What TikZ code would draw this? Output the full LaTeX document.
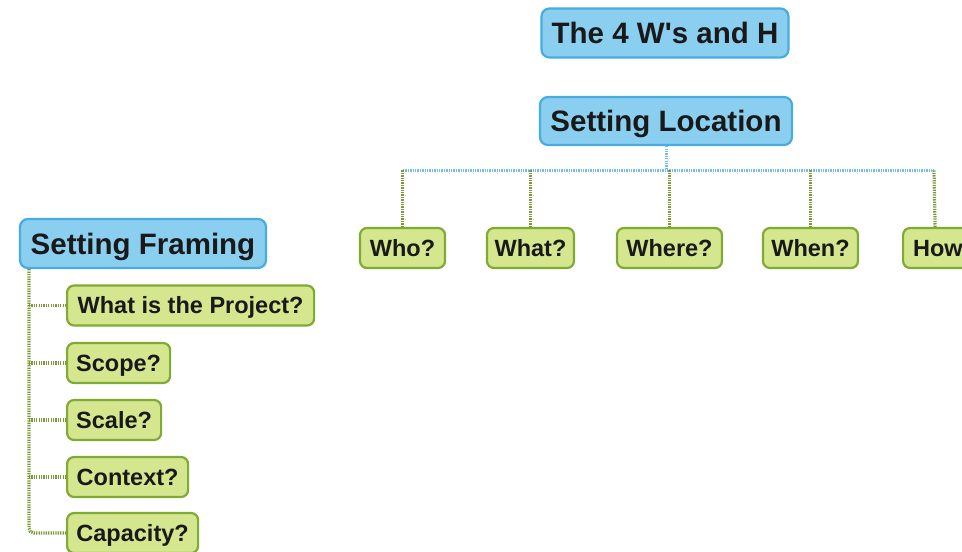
\documentclass[tikz,border=0pt]{standalone}
\usepackage{fontspec}
\setmainfont{Liberation Sans}
\newfontfamily\qfont{Liberation Sans Bold}
\definecolor{bfill}{RGB}{138,207,240}
\definecolor{bdraw}{RGB}{72,172,222}
\definecolor{gfill}{RGB}{212,230,142}
\definecolor{gdraw}{RGB}{128,170,52}
\definecolor{gline}{RGB}{120,155,55}
\definecolor{bline}{RGB}{115,190,230}
\tikzset{
  bluebox/.style={draw=bdraw, fill=bfill, line width=2.2pt, rounded corners=8pt,
    font=\fontsize{29.5}{32}\selectfont\bfseries, text=black!90, inner sep=0pt,
    text height=21pt, text depth=0pt, anchor=center},
  greenbox/.style={draw=gdraw, fill=gfill, line width=2.2pt, rounded corners=7pt,
    font=\fontsize{23.5}{26}\selectfont\bfseries, text=black!90, inner sep=0pt,
    text height=16.8pt, text depth=0pt, minimum height=40pt},
  gdot/.style={draw=gline, line width=3.2pt, dash pattern=on 1.3pt off 1.1pt},
  bdot/.style={draw=bline, line width=3pt, dash pattern=on 1.3pt off 1.1pt},
}
\begin{document}
\begin{tikzpicture}[x=1pt,y=-1pt]
\useasboundingbox (0,0) rectangle (962,552);
\clip (0,0) rectangle (962,552);
\fill[white] (0,0) rectangle (962,552);

% top nodes
\node[bluebox, minimum width=247pt, minimum height=49pt] (title) at (665,33) {The 4 W{\qfont\char"27}s and H};
\node[bluebox, minimum width=252pt, minimum height=48pt] (loc) at (666,121) {Setting Location};

% top row
\node[greenbox, minimum width=85pt] (who) at (402.5,248) {Who?};
\node[greenbox, minimum width=87pt] (what) at (530.5,248) {What?};
\node[greenbox, minimum width=105pt] (where) at (669.5,248) {Where?};
\node[greenbox, minimum width=95pt] (when) at (810.5,248) {When?};
\node[greenbox, minimum width=84pt, anchor=west] (how) at (902,248) {How?};

\coordinate (busL) at (403,170);
\coordinate (busR) at (934,170);

\draw[bdot] (busL) -- (busR);
\draw[bdot] (loc.south) -- (loc.south |- busL);
\draw[gdot] (who.north) -- (who.north |- busL);
\draw[gdot] (what.north) -- (what.north |- busL);
\draw[gdot] (where.north) -- (where.north |- busL);
\draw[gdot] (when.north) -- (when.north |- busL);
\draw[gdot] ([xshift=-10pt]how.north) -- (busR);

% left tree
\node[bluebox, minimum width=246pt, minimum height=49pt] (frame) at (143,243.5) {Setting Framing};

\node[greenbox, anchor=west, minimum width=247pt] (proj) at (66,305.5) {What is the Project?};
\node[greenbox, anchor=west, minimum width=103pt] (scope) at (66,363) {Scope?};
\node[greenbox, anchor=west, minimum width=94pt] (scale) at (66,420) {Scale?};
\node[greenbox, anchor=west, minimum width=121pt] (context) at (66,477) {Context?};
\node[greenbox, anchor=west, minimum width=131pt] (cap) at (66,533) {Capacity?};

\coordinate (trunk) at ([xshift=10pt]frame.south west);
\draw[gdot, rounded corners=5pt] (trunk) |- (cap.west);
\draw[gdot] (trunk |- proj.west) -- (proj.west);
\draw[gdot] (trunk |- scope.west) -- (scope.west);
\draw[gdot] (trunk |- scale.west) -- (scale.west);
\draw[gdot] (trunk |- context.west) -- (context.west);
\end{tikzpicture}
\end{document}
